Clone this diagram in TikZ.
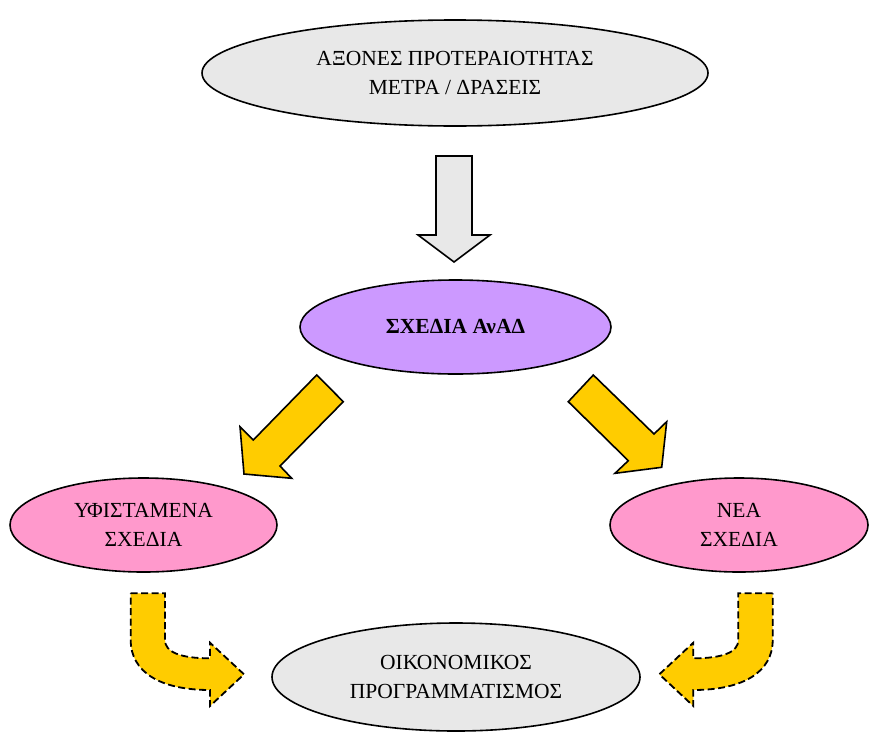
\documentclass[tikz,border=0pt]{standalone}
\usepackage{fontspec}
\setmainfont{Liberation Serif}
\usetikzlibrary{shapes.geometric}

\definecolor{ltgray}{HTML}{E8E8E8}
\definecolor{lilac}{HTML}{CC99FF}
\definecolor{rosy}{HTML}{FF99CC}
\definecolor{gold}{HTML}{FFCC00}

\tikzset{
  oval/.style={ellipse, draw, line width=1.6pt, inner sep=0pt, align=center,
    font=\fontsize{21.5}{29}\selectfont},
  blockarrow/.style={draw, line width=1.6pt, line join=miter},
  bentarrow/.style={draw, fill=gold, line width=1.8pt, dash pattern=on 7pt off 3.5pt}
}

\begin{document}
\begin{tikzpicture}[x=1pt, y=-1pt]
\useasboundingbox (0,0) rectangle (869,731);

% ovals
\node[oval, fill=ltgray, minimum width=506pt, minimum height=106pt] (axes) at (455,73)
  {ΑΞΟΝΕΣ ΠΡΟΤΕΡΑΙΟΤΗΤΑΣ\\ΜΕΤΡΑ / ΔΡΑΣΕΙΣ};
\node[oval, fill=lilac, minimum width=311pt, minimum height=94pt, font=\fontsize{21.5}{29}\selectfont\bfseries] (plans) at (455.5,327)
  {ΣΧΕΔΙΑ ΑνΑΔ};
\node[oval, fill=rosy, minimum width=267pt, minimum height=94pt] (existing) at (143.5,525)
  {ΥΦΙΣΤΑΜΕΝΑ\\ΣΧΕΔΙΑ};
\node[oval, fill=rosy, minimum width=258pt, minimum height=94pt] (new) at (739,525)
  {ΝΕΑ\\ΣΧΕΔΙΑ};
\node[oval, fill=ltgray, minimum width=368pt, minimum height=108pt] (budget) at (456,677)
  {ΟΙΚΟΝΟΜΙΚΟΣ\\ΠΡΟΓΡΑΜΜΑΤΙΣΜΟΣ};

% block arrows
\draw[blockarrow, fill=ltgray] (436,156) -- (472,156) -- (472,235) -- (490,235) -- (454,262)
  -- (418,235) -- (436,235) -- cycle;
\draw[blockarrow, fill=gold] (316.7,375) -- (343.3,401.7) -- (280,466) -- (291.7,478.3)
  -- (244,474) -- (240,426.7) -- (253.3,440) -- cycle;
\draw[blockarrow, fill=gold] (593.3,375) -- (654,434) -- (666.7,421.7) -- (661.7,467.3)
  -- (615,473.3) -- (628.3,460.7) -- (568.3,401.7) -- cycle;

% bent arrows
\draw[bentarrow] (130.7,593.3) -- (165,593.3) -- (165,640) .. controls (165,652) and (180,658.3) .. (210,658.3)
  -- (210,642.7) -- (244,674.3) -- (210,706) -- (210,690) .. controls (160,690) and (130.7,672) .. (130.7,640) -- cycle;
\draw[bentarrow] (772.7,593.3) -- (738.3,593.3) -- (738.3,640) .. controls (738.3,652) and (723.3,658.3) .. (693.3,658.3)
  -- (693.3,642.7) -- (659.3,674.3) -- (693.3,706) -- (693.3,690) .. controls (743.3,690) and (772.7,672) .. (772.7,640) -- cycle;
\end{tikzpicture}
\end{document}
